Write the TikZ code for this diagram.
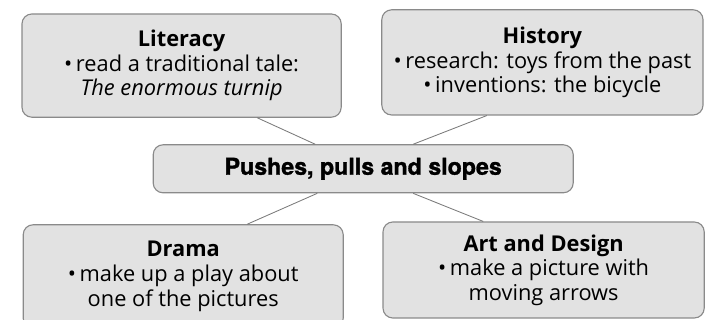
\documentclass[tikz,border=0pt]{standalone}
\usepackage{fontspec}
\setmainfont{Open Sans}
\newfontfamily\hubfont[BoldFeatures={FakeBold=1.3}]{TeX Gyre Heros}
\usepackage{xcolor}
\usepackage{tikz}
\definecolor{boxgrey}{HTML}{E2E2E2}
\definecolor{edgegrey}{HTML}{8A8A8A}
\definecolor{linkgrey}{HTML}{7A7A7A}

\begin{document}
\begin{tikzpicture}[x=1cm, y=1cm,
    topic/.style={rectangle, rounded corners=7pt, draw=edgegrey, fill=boxgrey,
                  line width=0.8pt, align=center, inner sep=2pt,
                  font=\fontsize{15.5}{17.5}\selectfont},
    hubbox/.style={topic, font=\hubfont\bfseries\fontsize{16.5}{18}\selectfont},
    link/.style={draw=linkgrey, line width=0.6pt}]
  \useasboundingbox (0,0) rectangle (17.7,8);
  % the links run behind the boxes, as an X through the middle
  \node[hubbox, minimum width=10.5cm, minimum height=1.2cm] (hub) at (9.08,3.78)
    {Pushes, pulls and slopes};
  \node[topic, minimum width=7.98cm, minimum height=2.58cm] (lit) at (4.54,6.36)
    {\textbf{Literacy}\\ \textbullet\,read a traditional tale:\\ \textit{The enormous turnip}};
  \node[topic, minimum width=8.03cm, minimum height=2.63cm] (hist) at (13.56,6.44)
    {\textbf{History}\\ \textbullet\,research: toys from the past\\ \textbullet\,inventions: the bicycle};
  \node[topic, minimum width=8.0cm, minimum height=2.58cm] (drama) at (4.58,1.09)
    {\textbf{Drama}\\ \textbullet\,make up a play about\\ one of the pictures};
  \node[topic, minimum width=8.03cm, minimum height=2.4cm] (art) at (13.59,1.25)
    {\textbf{Art and Design}\\ \textbullet\,make a picture with\\ moving arrows};
  % connectors, from box edge to box edge
  \draw[link] ([xshift=1.89cm]lit.south) -- ([xshift=-1.2cm]hub.north);
  \draw[link] ([xshift=-1.39cm]hist.south) -- ([xshift=1.25cm]hub.north);
  \draw[link] ([xshift=-1.15cm]hub.south) -- ([xshift=1.6cm]drama.north);
  \draw[link] ([xshift=1.25cm]hub.south) -- ([xshift=-1.51cm]art.north);
\end{tikzpicture}
\end{document}
